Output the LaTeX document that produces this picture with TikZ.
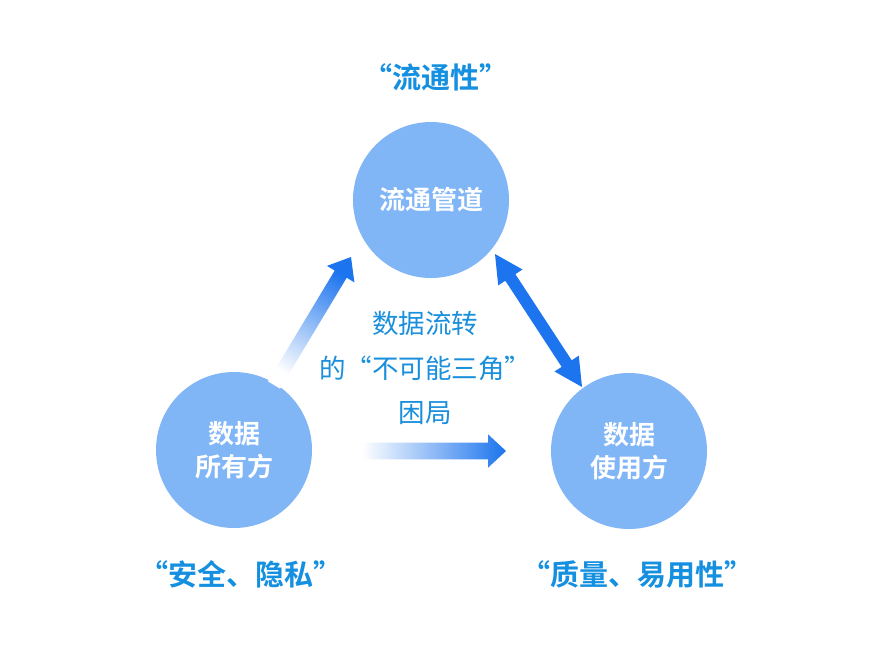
\documentclass[tikz,border=0pt]{standalone}
\usepackage{fontspec}
\newfontfamily\cjk{Noto Sans CJK SC}[BoldFont={Noto Sans CJK SC Bold}]
\usetikzlibrary{calc}
\definecolor{circfill}{HTML}{80B5F6}
\definecolor{arrowblue}{HTML}{1C74EE}
\definecolor{textblue}{HTML}{1A8FDC}
\definecolor{quoteblue}{HTML}{1590E0}
\tikzset{
  party/.style={circle, fill=circfill, minimum size=156pt, inner sep=0pt,
    text=white, font=\cjk\bfseries\fontsize{26}{33}\selectfont, align=center},
  quotelabel/.style={text=quoteblue, font=\cjk\bfseries\fontsize{29}{34}\selectfont},
  midlabel/.style={text=textblue, font=\cjk\fontsize{26.5}{44.5}\selectfont, align=center},
}
% single arrow polygon: #1 start, #2 tip, #3 shaft half width, #4 head half width, #5 head length
\newcommand{\arrowpoly}[5]{
  ($(#1)!#3!90:(#2)$) --
  ($($(#2)!#5!(#1)$)!#3!-90:(#1)$) --
  ($($(#2)!#5!(#1)$)!#4!-90:(#1)$) --
  (#2) --
  ($($(#2)!#5!(#1)$)!#4!90:(#1)$) --
  ($($(#2)!#5!(#1)$)!#3!90:(#1)$) --
  ($(#1)!#3!-90:(#2)$) -- cycle
}
\begin{document}
\begin{tikzpicture}[x=1pt,y=-1pt]
\useasboundingbox (0,0) rectangle (882,670);
\fill[white] (0,0) rectangle (882,670);

\node[party] (top) at (431,200) {流通管道};
\node[party] (owner) at (234,450) {数据\\所有方};
\node[party] (user) at (629,451) {数据\\使用方};

\node[quotelabel] (qtop) at (436,77) {“流通性”};
\node[quotelabel] (qleft) at (241,574) {“安全、隐私”};
\node[quotelabel] (qright) at (637,574) {“质量、易用性”};

\node[midlabel] (mid) at (425,368) {数据流转\\的“不可能三角”\\困局};

% arrow end points
\coordinate (a1s) at (274,385);
\coordinate (a1t) at (351,257);
\coordinate (a2s) at (362,451);
\coordinate (a2t) at (506,451);
\coordinate (a3s) at (495,254);
\coordinate (a3t) at (582,387);

% owner -> top (faded)
\shade[top color=arrowblue, bottom color=white, shading angle=-31]
  \arrowpoly{a1s}{a1t}{7pt}{16pt}{20pt};

% owner -> user (faded)
\shade[top color=arrowblue, bottom color=white, shading angle=-90]
  \arrowpoly{a2s}{a2t}{8.3pt}{16.7pt}{18pt};

% top <-> user double arrow
\fill[arrowblue]
  (a3s) --
  ($($(a3s)!28pt!(a3t)$)!14.5pt!90:(a3t)$) --
  ($($(a3s)!28pt!(a3t)$)!6pt!90:(a3t)$) --
  ($($(a3t)!28pt!(a3s)$)!6pt!-90:(a3s)$) --
  ($($(a3t)!28pt!(a3s)$)!14.5pt!-90:(a3s)$) --
  (a3t) --
  ($($(a3t)!28pt!(a3s)$)!14.5pt!90:(a3s)$) --
  ($($(a3t)!28pt!(a3s)$)!6pt!90:(a3s)$) --
  ($($(a3s)!28pt!(a3t)$)!6pt!-90:(a3t)$) --
  ($($(a3s)!28pt!(a3t)$)!14.5pt!-90:(a3t)$) -- cycle;
\end{tikzpicture}
\end{document}
